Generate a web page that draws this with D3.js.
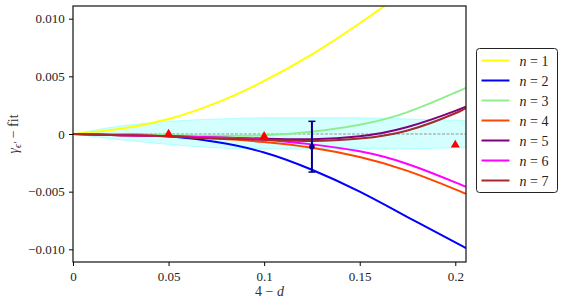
<!DOCTYPE html>
<html>
<head>
<meta charset="utf-8">
<script src="https://cdn.jsdelivr.net/npm/d3@7"></script>
<style>
  body { margin: 0; background: #fff; }
  svg text { font-family: 'Liberation Serif', 'Times New Roman', 'DejaVu Serif', serif; }
</style>
</head>
<body>
<svg id="chart"></svg>
<script>
// sample points along 4-d
const xGrid = [0, 0.025, 0.05, 0.075, 0.1, 0.125, 0.15, 0.175, 0.2, 0.2056];

const seriesNames = ['n = 1', 'n = 2', 'n = 3', 'n = 4', 'n = 5', 'n = 6', 'n = 7'];
const seriesColors = ['#ffff00', '#0000ff', '#90ee90', '#ff4500', '#800080', '#ff00ff', '#a52a2a'];

const n1 = [0, 0.00045, 0.0013, 0.0027, 0.0046, 0.0069, 0.0096, 0.0126, 0.0159, 0.0167];
const n2 = [0, -0.00003, -0.0002, -0.0007, -0.0016, -0.0031, -0.005, -0.0072, -0.0094, -0.0099];
const n3 = [0, -0.00002, -0.0001, -0.00015, -0.0001, 0.0002, 0.0008, 0.0019, 0.0036, 0.004];
const n4 = [0, -0.0001, -0.0002, -0.0004, -0.0007, -0.0012, -0.002, -0.0032, -0.0048, -0.0052];
const n5 = [0, -0.0001, -0.0002, -0.0003, -0.0004, -0.00045, -0.0002, 0.0006, 0.002, 0.0024];
const n6 = [0, -0.0001, -0.0002, -0.0003, -0.0005, -0.0009, -0.0015, -0.0026, -0.0042, -0.0046];
const n7 = [0, -0.0001, -0.0002, -0.0004, -0.0005, -0.0006, -0.0004, 0.0003, 0.0018, 0.0023];
const seriesValues = [n1, n2, n3, n4, n5, n6, n7];

// shaded band
const bandUpper = [0, 0.0007, 0.0011, 0.0013, 0.0014, 0.0014, 0.0014, 0.0013, 0.0012, 0.0012];
const bandLower = [0, -0.0005, -0.0009, -0.0012, -0.0013, -0.0013, -0.0013, -0.0013, -0.0012, -0.0012];

// red triangles
const triX = [0.05, 0.1, 0.2];
const triY = [0.0, -0.0002, -0.00095];

// error bar point
const errX = [0.125];
const errY = [-0.0011];
const errE = [0.0022];

const xTicks = [0, 0.05, 0.1, 0.15, 0.2];
const xTickLabels = ['0', '0.05', '0.1', '0.15', '0.2'];
const yTicks = [-0.01, -0.005, 0, 0.005, 0.01];
const yTickLabels = ['\u22120.010', '\u22120.005', '0', '0.005', '0.010'];

const serif = "'Liberation Serif', 'Times New Roman', 'DejaVu Serif', serif";

const svgWidth = 564;
const svgHeight = 305;
const margin = { top: 6, right: 98, bottom: 43, left: 73 };
const width = svgWidth - margin.left - margin.right;
const height = svgHeight - margin.top - margin.bottom;

const svg = d3.select('#chart')
  .attr('width', svgWidth)
  .attr('height', svgHeight);

const g = svg.append('g')
  .attr('transform', `translate(${margin.left},${margin.top})`);

const xScale = d3.scaleLinear().domain([0, 0.2056]).range([0, width]);
const yScale = d3.scaleLinear().domain([-0.0111, 0.0111]).range([height, 0]);

g.append('clipPath').attr('id', 'clip')
  .append('rect').attr('width', width).attr('height', height);

const plot = g.append('g').attr('clip-path', 'url(#clip)');

// band
const area = d3.area()
  .x((d, i) => xScale(xGrid[i]))
  .y0((d, i) => yScale(bandLower[i]))
  .y1((d) => yScale(d))
  .curve(d3.curveMonotoneX);

plot.append('path')
  .datum(bandUpper)
  .attr('d', area)
  .attr('fill', '#00ffff')
  .attr('fill-opacity', 0.17)
  .attr('stroke', '#00ffff')
  .attr('stroke-opacity', 0.25)
  .attr('stroke-width', 1);

// zero line
plot.append('line')
  .attr('x1', xScale(0)).attr('x2', xScale(0.2056))
  .attr('y1', yScale(0)).attr('y2', yScale(0))
  .attr('stroke', '#999')
  .attr('stroke-opacity', 0.7)
  .attr('stroke-width', 1.5)
  .attr('stroke-dasharray', '3,1.5');

// curves
const line = d3.line()
  .x((d, i) => xScale(xGrid[i]))
  .y((d) => yScale(d))
  .curve(d3.curveNatural);

seriesValues.forEach((vals, k) => {
  plot.append('path')
    .datum(vals)
    .attr('d', line)
    .attr('fill', 'none')
    .attr('stroke', seriesColors[k])
    .attr('stroke-width', 2);
});

// triangles
plot.selectAll('.tri')
  .data(triX)
  .enter()
  .append('path')
  .attr('class', 'tri')
  .attr('d', d3.symbol().type(d3.symbolTriangle).size(36))
  .attr('transform', (d, i) => `translate(${xScale(d)},${yScale(triY[i])})`)
  .attr('fill', '#ff0000');

// error bar
errX.forEach((x, i) => {
  const cx = xScale(x);
  const top = yScale(errY[i] + errE[i]);
  const bot = yScale(errY[i] - errE[i]);
  plot.append('line').attr('x1', cx).attr('x2', cx).attr('y1', top).attr('y2', bot)
    .attr('stroke', '#00008b').attr('stroke-width', 2);
  [top, bot].forEach((yy) => {
    plot.append('line').attr('x1', cx - 3.5).attr('x2', cx + 3.5).attr('y1', yy).attr('y2', yy)
      .attr('stroke', '#00008b').attr('stroke-width', 1.5);
  });
  plot.append('circle').attr('cx', cx).attr('cy', yScale(errY[i])).attr('r', 2.8)
    .attr('fill', '#00008b');
});

// axes
const xAxis = g.append('g')
  .attr('transform', `translate(0,${height})`)
  .call(d3.axisBottom(xScale).tickValues(xTicks).tickFormat((d, i) => xTickLabels[i]).tickSize(4).tickSizeOuter(0));

const yAxis = g.append('g')
  .call(d3.axisLeft(yScale).tickValues(yTicks).tickFormat((d, i) => yTickLabels[i]).tickSize(4).tickSizeOuter(0));

[xAxis, yAxis].forEach((ax) => {
  ax.attr('font-family', serif);
  ax.select('.domain').remove();
  ax.selectAll('line').attr('stroke', '#000').attr('stroke-width', 1);
  ax.selectAll('text')
    .style('font-family', serif)
    .attr('font-size', 13)
    .attr('fill', '#222');
});
xAxis.selectAll('text').attr('dy', '0.9em');
yAxis.selectAll('text').attr('dx', '-0.1em');

// frame
g.append('rect')
  .attr('width', width).attr('height', height)
  .attr('fill', 'none')
  .attr('stroke', '#111')
  .attr('stroke-width', 1.2);

// axis labels
const xl = svg.append('text')
  .attr('x', margin.left + width / 2)
  .attr('y', 296)
  .attr('text-anchor', 'middle')
  .style('font-family', serif)
  .attr('font-size', 14)
  .attr('fill', '#333');
xl.append('tspan').text('4 \u2212 ');
xl.append('tspan').attr('font-style', 'italic').text('d');

const yl = svg.append('text')
  .attr('transform', `translate(18,${margin.top + yScale(0)}) rotate(-90)`)
  .attr('text-anchor', 'middle')
  .style('font-family', serif)
  .attr('font-size', 14)
  .attr('fill', '#333');
yl.append('tspan').attr('font-style', 'italic').text('\u03b3');
yl.append('tspan').attr('font-style', 'italic').attr('font-size', 10).attr('dy', 3).text('\u03f5\u2032');
yl.append('tspan').attr('dy', -3).text(' \u2212 fit');

// legend
const legend = svg.append('g').attr('transform', 'translate(476.5,48.5)');
legend.append('rect')
  .attr('width', 81).attr('height', 144)
  .attr('rx', 3)
  .attr('fill', '#fff')
  .attr('stroke', '#222')
  .attr('stroke-width', 1);

seriesNames.forEach((name, k) => {
  const row = legend.append('g').attr('transform', `translate(0,${12 + k * 20})`);
  row.append('line')
    .attr('x1', 5).attr('x2', 33)
    .attr('stroke', seriesColors[k])
    .attr('stroke-width', 2);
  const t = row.append('text')
    .attr('x', 43).attr('y', 5)
    .style('font-family', serif)
    .attr('font-size', 14)
    .attr('fill', '#222');
  t.append('tspan').attr('font-style', 'italic').text('n');
  t.append('tspan').text(' = ' + name.split('= ')[1]);
});
</script>
</body>
</html>
